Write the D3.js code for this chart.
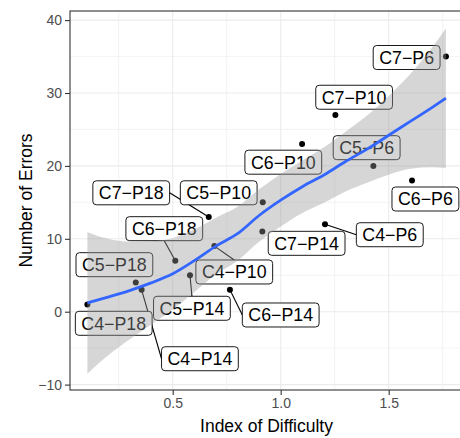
<!DOCTYPE html>
<html>
<head>
<meta charset="utf-8">
<script src="https://cdn.jsdelivr.net/npm/d3@7"></script>
<style>
  body { margin: 0; background: #fff; }
  text { font-family: "Liberation Sans", Arial, sans-serif; }
</style>
</head>
<body>
<svg id="chart" width="460" height="438"></svg>
<script>
// points: condition label, index of difficulty, number of errors
const labels = ["C4−P6", "C4−P10", "C4−P14", "C4−P18",
                "C5−P6", "C5−P10", "C5−P14", "C5−P18",
                "C6−P6", "C6−P10", "C6−P14", "C6−P18",
                "C7−P6", "C7−P10", "C7−P14", "C7−P18"];
const difficulty = [1.205, 0.693, 0.356, 0.105,
                    1.429, 0.917, 0.580, 0.329,
                    1.608, 1.099, 0.765, 0.512,
                    1.765, 1.253, 0.915, 0.667];
const errors = [12, 9, 3, 1,
                20, 15, 5, 4,
                18, 23, 3, 7,
                35, 27, 11, 13];

// where the repelled labels ended up (data units, label centre)
const labelX = [1.505, 0.785, 0.626, 0.227,
                1.398, 0.713, 0.589, 0.230,
                1.670, 1.012, 1.000, 0.461,
                1.583, 1.340, 1.120, 0.308];
const labelY = [10.56, 5.45, -6.45, -1.59,
                22.50, 16.31, 0.47, 6.45,
                15.46, 20.51, -0.45, 11.39,
                34.87, 29.42, 9.38, 16.31];

// loess smooth
const smoothX    = [0.105, 0.2, 0.3, 0.4, 0.5, 0.6, 0.7, 0.8, 0.9, 1.0, 1.1, 1.2, 1.3, 1.4, 1.5, 1.6, 1.7, 1.765];
const smoothFit  = [1.2, 2.0, 2.9, 3.95, 5.2, 7.0, 9.0, 10.7, 13.2, 15.3, 17.15, 18.75, 20.6, 22.3, 24.2, 26.1, 28.0, 29.3];
const smoothLow  = [-8.5, -6.0, -3.8, -1.75, 0.3, 2.7, 5.1, 7.0, 9.6, 11.7, 13.55, 14.95, 16.5, 17.7, 18.8, 19.6, 19.8, 19.7];
const smoothHigh = [10.9, 10.0, 9.6, 9.65, 10.1, 11.3, 12.9, 14.4, 16.8, 18.9, 20.75, 22.55, 24.7, 26.9, 29.6, 32.6, 36.2, 38.9];

const xTicks = [0.5, 1.0, 1.5];
const xMinor = [0.25, 0.75, 1.25, 1.75];
const yTicks = [-10, 0, 10, 20, 30, 40];
const yMinor = [-5, 5, 15, 25, 35];

const panel = { left: 70, top: 11, right: 463, bottom: 390 };

const svg = d3.select("#chart");

const x = d3.scaleLinear().domain([0.0245, 1.844]).range([panel.left, panel.right]);
const y = d3.scaleLinear().domain([-10.74, 41.25]).range([panel.bottom, panel.top]);

svg.append("defs").append("clipPath").attr("id", "clip")
  .append("rect")
  .attr("x", panel.left).attr("y", panel.top)
  .attr("width", panel.right - panel.left).attr("height", panel.bottom - panel.top);

const g = svg.append("g").attr("clip-path", "url(#clip)");

// grid
g.selectAll(".vminor").data(xMinor).join("line")
  .attr("x1", d => x(d)).attr("x2", d => x(d))
  .attr("y1", panel.top).attr("y2", panel.bottom)
  .attr("stroke", "#ebebeb").attr("stroke-width", 0.6);
g.selectAll(".hminor").data(yMinor).join("line")
  .attr("y1", d => y(d)).attr("y2", d => y(d))
  .attr("x1", panel.left).attr("x2", panel.right)
  .attr("stroke", "#ebebeb").attr("stroke-width", 0.6);
g.selectAll(".vmajor").data(xTicks).join("line")
  .attr("x1", d => x(d)).attr("x2", d => x(d))
  .attr("y1", panel.top).attr("y2", panel.bottom)
  .attr("stroke", "#ebebeb").attr("stroke-width", 1.1);
g.selectAll(".hmajor").data(yTicks).join("line")
  .attr("y1", d => y(d)).attr("y2", d => y(d))
  .attr("x1", panel.left).attr("x2", panel.right)
  .attr("stroke", "#ebebeb").attr("stroke-width", 1.1);

const idx = d3.range(labels.length);

// points
g.append("g").selectAll("circle").data(idx).join("circle")
  .attr("cx", i => x(difficulty[i]))
  .attr("cy", i => y(errors[i]))
  .attr("r", 3)
  .attr("fill", "#000");

// repelled labels with segments
const segG = g.append("g");
const labG = g.append("g");
idx.forEach(i => {
  const cx = x(labelX[i]), cy = y(labelY[i]);
  const px = x(difficulty[i]), py = y(errors[i]);
  const lg = labG.append("g");
  const rect = lg.append("rect");
  const t = lg.append("text")
    .attr("x", cx).attr("y", cy).attr("dy", "0.36em")
    .attr("text-anchor", "middle")
    .attr("font-size", 17.8)
    .attr("fill", "#000")
    .text(labels[i]);
  const w = t.node().getComputedTextLength() + 12, h = 24;
  const x1 = cx - w / 2, x2 = cx + w / 2, y1 = cy - h / 2, y2 = cy + h / 2;
  rect.attr("x", x1).attr("y", y1).attr("width", w).attr("height", h)
    .attr("rx", 3.5).attr("ry", 3.5)
    .attr("fill", "#fff").attr("stroke", "#000").attr("stroke-width", 0.9);

  // nearest distance from point to box decides whether a segment is shown
  const nx = Math.max(x1, Math.min(px, x2)), ny = Math.max(y1, Math.min(py, y2));
  if (Math.hypot(px - nx, py - ny) > 10) {
    let ex, ey;
    if (px < x1) { ex = x1; ey = cy; }
    else if (px > x2) { ex = x2; ey = cy; }
    else if (py < y1) { ex = cx; ey = y1; }
    else { ex = cx; ey = y2; }
    segG.append("line")
      .attr("x1", px).attr("y1", py).attr("x2", ex).attr("y2", ey)
      .attr("stroke", "#000").attr("stroke-width", 1.1);
  }
});

// smooth ribbon and line on top
const band = d3.area()
  .x((d, i) => x(smoothX[i]))
  .y0((d, i) => y(smoothLow[i]))
  .y1((d, i) => y(smoothHigh[i]))
  .curve(d3.curveMonotoneX);
g.append("path").datum(smoothX)
  .attr("d", band)
  .attr("fill", "#999999").attr("fill-opacity", 0.4);

const line = d3.line()
  .x((d, i) => x(smoothX[i]))
  .y((d, i) => y(smoothFit[i]))
  .curve(d3.curveMonotoneX);
g.append("path").datum(smoothX)
  .attr("d", line)
  .attr("fill", "none").attr("stroke", "#3366FF").attr("stroke-width", 2.8);

// panel border
svg.append("rect")
  .attr("x", panel.left).attr("y", panel.top)
  .attr("width", panel.right - panel.left).attr("height", panel.bottom - panel.top)
  .attr("fill", "none").attr("stroke", "#333333").attr("stroke-width", 1.1);

// axes
const xAxis = svg.append("g")
  .attr("transform", `translate(0,${panel.bottom})`)
  .call(d3.axisBottom(x).tickValues(xTicks).tickFormat(d3.format(".1f")).tickSize(5).tickPadding(3));
const yAxis = svg.append("g")
  .attr("transform", `translate(${panel.left},0)`)
  .call(d3.axisLeft(y).tickValues(yTicks).tickFormat(d3.format("d")).tickSize(5).tickPadding(3));
[xAxis, yAxis].forEach(a => {
  a.select(".domain").remove();
  a.selectAll(".tick line").attr("stroke", "#333333").attr("stroke-width", 1.1);
  a.selectAll(".tick text").attr("fill", "#4d4d4d").attr("font-size", 14)
    .attr("font-family", "Liberation Sans, Arial, sans-serif");
});

svg.append("text")
  .attr("x", (panel.left + panel.right) / 2).attr("y", 432)
  .attr("text-anchor", "middle").attr("font-size", 17.5).attr("fill", "#000")
  .text("Index of Difficulty");
svg.append("text")
  .attr("transform", `translate(31.5,${(panel.top + panel.bottom) / 2}) rotate(-90)`)
  .attr("text-anchor", "middle").attr("font-size", 17.5).attr("fill", "#000")
  .text("Number of Errors");
</script>
</body>
</html>
